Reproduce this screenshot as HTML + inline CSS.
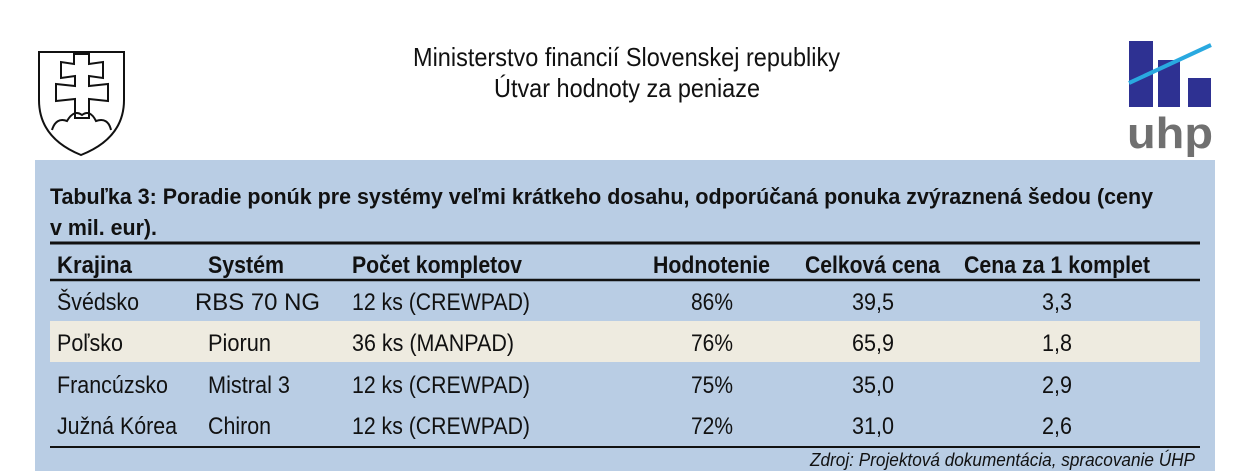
<!DOCTYPE html>
<html><head><meta charset="utf-8"><style>
html,body{margin:0;padding:0;background:#fff;width:1249px;height:471px;overflow:hidden}
text{font-family:"Liberation Sans Narrow","Liberation Sans",sans-serif;fill:#111}
</style></head><body>
<svg width="1249" height="471" viewBox="0 0 1249 471" xmlns="http://www.w3.org/2000/svg">
<g fill="none" stroke="#111" stroke-width="2">
<path d="M39,52 L124,52 L124,100 Q124,138 81,155 Q39,138 39,100 Z"/>
<path d="M74,54 L89,54 L89,64 L103,62 L103,78 L89,76 L89,86 L108,84 L108,101 L89,99 L89,118 L75,118 L75,99 L56,101 L56,84 L75,86 L75,76 L61,78 L61,62 L74,64 Z"/>
<path d="M52,130 Q56,117 67,121 Q74,109 82,115 Q90,109 96,121 Q108,117 111,130"/>
</g>
<g>
<rect x="1129" y="41" width="24" height="66" fill="#2e3192"/>
<rect x="1158" y="60" width="22" height="47" fill="#2e3192"/>
<rect x="1188" y="78" width="23" height="29" fill="#2e3192"/>
<line x1="1129" y1="83" x2="1211" y2="45" stroke="#29a9e0" stroke-width="4"/>
<text x="1170" y="148" text-anchor="middle" font-size="44" font-weight="bold" style="fill:#707070;font-family:'Liberation Sans',sans-serif" textLength="86" lengthAdjust="spacingAndGlyphs">uhp</text>
</g>
<text x="413" y="66" font-size="26" textLength="427" lengthAdjust="spacingAndGlyphs">Ministerstvo financií Slovenskej republiky</text>
<text x="494" y="97" font-size="26" textLength="266" lengthAdjust="spacingAndGlyphs">Útvar hodnoty za peniaze</text>
<rect x="35" y="160" width="1180" height="311" fill="#b9cde4"/>
<text x="50" y="204" font-size="22" font-weight="bold" textLength="1103" lengthAdjust="spacingAndGlyphs">Tabuľka 3: Poradie ponúk pre systémy veľmi krátkeho dosahu,  odporúčaná ponuka zvýraznená šedou (ceny</text>
<text x="50" y="235" font-size="22" font-weight="bold" textLength="107" lengthAdjust="spacingAndGlyphs">v mil. eur).</text>
<rect x="50" y="321" width="1150" height="41" fill="#eeebe0"/>
<line x1="50" y1="243" x2="1200" y2="243" stroke="#111" stroke-width="3"/>
<line x1="50" y1="280" x2="1200" y2="280" stroke="#111" stroke-width="2.5"/>
<line x1="50" y1="447" x2="1200" y2="447" stroke="#111" stroke-width="2"/>
<g font-size="24" font-weight="bold">
<text x="57" y="273" textLength="75" lengthAdjust="spacingAndGlyphs">Krajina</text>
<text x="208" y="273" textLength="76" lengthAdjust="spacingAndGlyphs">Systém</text>
<text x="352" y="273" textLength="170" lengthAdjust="spacingAndGlyphs">Počet kompletov</text>
<text x="653" y="273" textLength="117" lengthAdjust="spacingAndGlyphs">Hodnotenie</text>
<text x="805" y="273" textLength="135" lengthAdjust="spacingAndGlyphs">Celková cena</text>
<text x="964" y="273" textLength="186" lengthAdjust="spacingAndGlyphs">Cena za 1 komplet</text>
</g>
<g font-size="24">
<g><text x="57" y="310" textLength="82" lengthAdjust="spacingAndGlyphs">Švédsko</text><text x="195" y="310" textLength="125" lengthAdjust="spacingAndGlyphs">RBS 70 NG</text><text x="352" y="310" textLength="178" lengthAdjust="spacingAndGlyphs">12 ks (CREWPAD)</text><text x="712" y="310" text-anchor="middle" textLength="42" lengthAdjust="spacingAndGlyphs">86%</text><text x="873" y="310" text-anchor="middle" textLength="42" lengthAdjust="spacingAndGlyphs">39,5</text><text x="1057" y="310" text-anchor="middle" textLength="30" lengthAdjust="spacingAndGlyphs">3,3</text></g>
<g><text x="57" y="351" textLength="66" lengthAdjust="spacingAndGlyphs">Poľsko</text><text x="208" y="351" textLength="63" lengthAdjust="spacingAndGlyphs">Piorun</text><text x="352" y="351" textLength="162" lengthAdjust="spacingAndGlyphs">36 ks (MANPAD)</text><text x="712" y="351" text-anchor="middle" textLength="42" lengthAdjust="spacingAndGlyphs">76%</text><text x="873" y="351" text-anchor="middle" textLength="42" lengthAdjust="spacingAndGlyphs">65,9</text><text x="1057" y="351" text-anchor="middle" textLength="30" lengthAdjust="spacingAndGlyphs">1,8</text></g>
<g><text x="57" y="393" textLength="111" lengthAdjust="spacingAndGlyphs">Francúzsko</text><text x="208" y="393" textLength="82" lengthAdjust="spacingAndGlyphs">Mistral 3</text><text x="352" y="393" textLength="178" lengthAdjust="spacingAndGlyphs">12 ks (CREWPAD)</text><text x="712" y="393" text-anchor="middle" textLength="42" lengthAdjust="spacingAndGlyphs">75%</text><text x="873" y="393" text-anchor="middle" textLength="42" lengthAdjust="spacingAndGlyphs">35,0</text><text x="1057" y="393" text-anchor="middle" textLength="30" lengthAdjust="spacingAndGlyphs">2,9</text></g>
<g><text x="57" y="434" textLength="120" lengthAdjust="spacingAndGlyphs">Južná Kórea</text><text x="208" y="434" textLength="63" lengthAdjust="spacingAndGlyphs">Chiron</text><text x="352" y="434" textLength="178" lengthAdjust="spacingAndGlyphs">12 ks (CREWPAD)</text><text x="712" y="434" text-anchor="middle" textLength="42" lengthAdjust="spacingAndGlyphs">72%</text><text x="873" y="434" text-anchor="middle" textLength="42" lengthAdjust="spacingAndGlyphs">31,0</text><text x="1057" y="434" text-anchor="middle" textLength="30" lengthAdjust="spacingAndGlyphs">2,6</text></g>
</g>
<text x="1195" y="466" font-size="18" font-style="italic" text-anchor="end" textLength="385" lengthAdjust="spacingAndGlyphs">Zdroj: Projektová dokumentácia, spracovanie ÚHP</text>
</svg>
</body></html>
